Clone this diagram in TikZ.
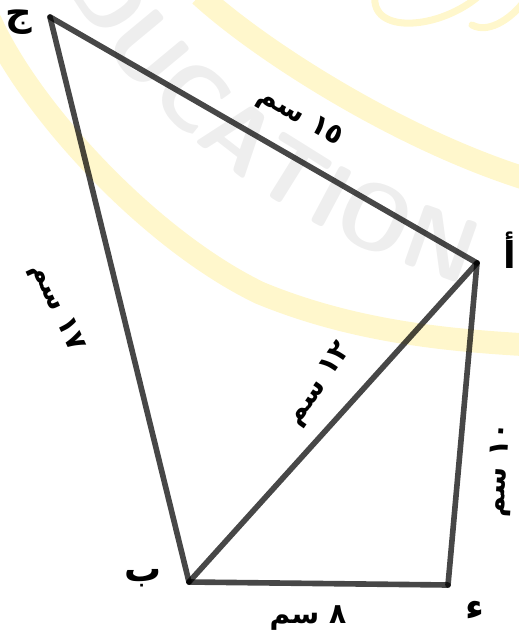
\documentclass[tikz,border=0pt]{standalone}
\usepackage{fontspec}
\newfontfamily\arabicfont[Script=Arabic]{DejaVu Sans}
\TeXXeTstate=1
\usetikzlibrary{decorations.text}
\definecolor{markyellow}{HTML}{FFF7CC}
\definecolor{markgray}{HTML}{EEEEEE}

\begin{document}
\begin{tikzpicture}[
    x=0.02cm, y=-0.02cm,
    side/.style={draw=black, opacity=0.72, line width=3.2pt, line cap=round},
    vertex/.style={font=\arabicfont\fontsize{21}{21}\selectfont\bfseries, inner sep=1pt},
    length/.style={font=\arabicfont\fontsize{16}{16}\selectfont\bfseries, inner sep=1pt},
    band/.style={draw=markyellow, line width=13pt},
    logo/.style={draw=markyellow, line width=4pt, line cap=round}
]
    \useasboundingbox (0,0) rectangle (519,630);

    % Watermark
    \begin{scope}
        \clip (0,0) rectangle (519,630);
        \draw[band] (-10,20) .. controls (30,110) and (150,240) .. (260,293) .. controls (350,330) and (440,340) .. (530,345);
        \draw[band] (200,-5) .. controls (260,50) and (400,140) .. (530,180);
        \draw[logo] (375,-5) .. controls (370,35) and (440,30) .. (480,-5);
        \draw[logo] (472,25) .. controls (490,35) and (515,15) .. (525,0);
        \path[decorate, decoration={text along path, text align=left, text color=markgray,
            text={|\sffamily\bfseries\fontsize{52}{52}\selectfont|EDUCATION}}]
            (35,-70) .. controls (125,110) and (270,250) .. (580,315);
    \end{scope}

    % Vertices
    \coordinate (A) at (477,263);
    \coordinate (B) at (189,582);
    \coordinate (C) at (50,17);
    \coordinate (D) at (448,585);

    % Sides
    \draw[side] (C) -- (A);
    \draw[side] (C) -- (B);
    \draw[side] (B) -- (A);
    \draw[side] (A) -- (D);
    \draw[side] (B) -- (D);

    % Vertex labels
    \node[vertex] (lA) at (510,250) {\beginR أ\endR};
    \node[vertex] (lB) at (143,578) {\beginR ب\endR};
    \node[vertex] (lC) at (19,22) {\beginR ج\endR};
    \node[vertex] (lD) at (475,610) {\beginR ء\endR};

    % Side lengths
    \node[length, rotate=-30] (lCA) at (300,118) {\beginR\beginL ١٥\endL{} سم\endR};
    \node[length, rotate=-65] (lCB) at (56,308) {\beginR\beginL ١٧\endL{} سم\endR};
    \node[length, rotate=55] (lBA) at (320,385) {\beginR\beginL ١٢\endL{} سم\endR};
    \node[length, rotate=86] (lAD) at (501,470) {\beginR\beginL ١٠\endL{} سم\endR};
    \node[length] (lBD) at (308,618) {\beginR\beginL ٨\endL{} سم\endR};
\end{tikzpicture}
\end{document}
